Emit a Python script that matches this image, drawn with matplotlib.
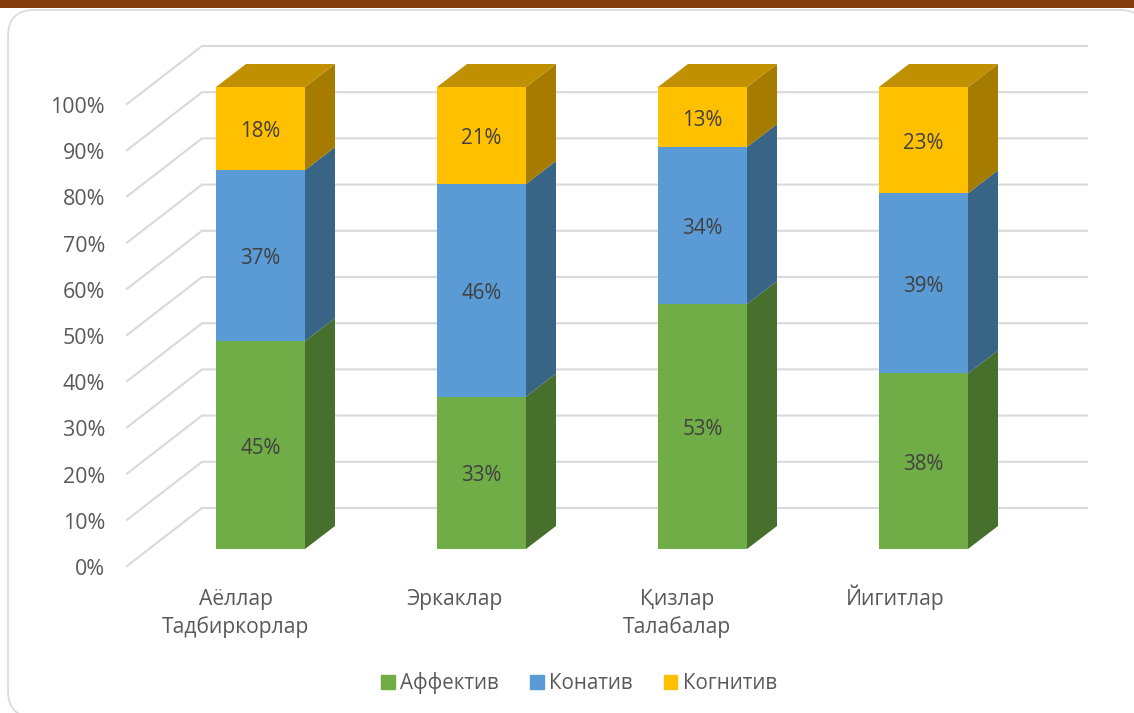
"""Stacked 3D-look percent columns, drawn flat with an oblique offset for the depth."""
import matplotlib
matplotlib.use("Agg")
import matplotlib.pyplot as plt
import numpy as np
from matplotlib.patches import FancyBboxPatch, Patch, Rectangle

plt.rcParams["font.family"] = ["Open Sans", "DejaVu Sans"]

categories = ["Аёллар\nТадбиркорлар", "Эркаклар", "Қизлар\nТалабалар", "Йигитлар"]
series_names = ["Аффектив", "Конатив", "Когнитив"]
affective = [45, 33, 53, 38]
conative = [37, 46, 34, 39]
cognitive = [18, 21, 13, 23]
y_ticks = [0, 10, 20, 30, 40, 50, 60, 70, 80, 90, 100]

W, H = 1134, 713
PX_X = 221.0      # pixels per category
PX_Y = 4.62       # pixels per percent
X0_PX, Y0_PX = 260.5, 549.0

FRONT = ["#70AD47", "#5B9BD5", "#FFC000"]
SIDE = ["#46702C", "#386486", "#A67C00"]
TOP = "#C09000"
GRID = "#D9D9D9"
TICK_TXT = "#595959"
LABEL_TXT = "#404040"

BAR_W = 89 / PX_X
DEPTH_X = 30 / PX_X
DEPTH_Y = 23 / PX_Y

fig = plt.figure(figsize=(W / 100, H / 100), dpi=100, facecolor="white")

# frame: brown strip and rounded chart border, in pixels
bg = fig.add_axes([0, 0, 1, 1])
bg.set_xlim(0, W); bg.set_ylim(H, 0); bg.axis("off")
bg.add_patch(FancyBboxPatch((8, 10), 1138, 707,
                            boxstyle="round,pad=0,rounding_size=26",
                            linewidth=1.2, edgecolor=GRID, facecolor="white"))
bg.add_patch(Rectangle((0, 0), W, 8, facecolor="#843C0C", edgecolor="none"))

ax = fig.add_axes([0, 0, 1, 1])
ax.patch.set_alpha(0)
ax.set_xlim(-X0_PX / PX_X, (W - X0_PX) / PX_X)
ax.set_ylim((Y0_PX - H) / PX_Y, Y0_PX / PX_Y)
ax.axis("off")

# gridlines: the slanted floor/side part, then along the back wall
wall_x0 = (127 - X0_PX) / PX_X
back_dx = 75 / PX_X
back_dy = 58 / PX_Y
front_y0 = (Y0_PX - 566) / PX_Y
wall_x1 = (1087 - X0_PX) / PX_X
for t in y_ticks:
    y = front_y0 + t
    ax.plot([wall_x0, wall_x0 + back_dx, wall_x1], [y, y + back_dy, y + back_dy],
            color=GRID, lw=1.5, solid_joinstyle="round", zorder=1)
    ax.text(wall_x0 - 22 / PX_X, y - 3.5 / PX_Y, f"{t}%", ha="right", va="center",
            fontsize=15.4, color=TICK_TXT)

x = np.arange(len(categories))
series = [affective, conative, cognitive]
bottom = np.zeros(len(categories))
for vals, fc, sc, name in zip(series, FRONT, SIDE, series_names):
    vals = np.array(vals)
    ax.bar(x, vals, BAR_W, bottom=bottom, color=fc, zorder=3, label=name)
    for i in x:
        r = i + BAR_W / 2
        b, t = bottom[i], bottom[i] + vals[i]
        ax.fill([r, r + DEPTH_X, r + DEPTH_X, r],
                [b, b + DEPTH_Y, t + DEPTH_Y, t], color=sc, lw=0, zorder=2)
        ax.text(i, (b + t) / 2 - 3 / PX_Y, f"{vals[i]}%", ha="center", va="center",
                fontsize=14.8, color=LABEL_TXT, zorder=4)
    bottom = bottom + vals

# top faces
for i in x:
    l, r = i - BAR_W / 2, i + BAR_W / 2
    t = bottom[i]
    ax.fill([l, r, r + DEPTH_X, l + DEPTH_X], [t, t, t + DEPTH_Y, t + DEPTH_Y],
            color=TOP, lw=0, zorder=2)

# category labels sit left of the columns, one baseline per line
label_shift = [-24.5, -27, -25.5, -28]
line_px = [604.5, 633]
for i, (cat, s) in enumerate(zip(categories, label_shift)):
    for line, py in zip(cat.split("\n"), line_px):
        ax.text(i + s / PX_X, (Y0_PX - py) / PX_Y, line, ha="center", va="baseline",
                fontsize=15.2, color=TICK_TXT)

handles = [Patch(color=c, label=n) for c, n in zip(FRONT, series_names)]
ax.legend(handles=handles, loc="center", ncols=3, frameon=False, fontsize=14.8,
          labelcolor=TICK_TXT, handlelength=0.68, handleheight=0.68,
          handletextpad=0.25, columnspacing=1.5,
          bbox_to_anchor=(579 / W, 1 - 683 / H), bbox_transform=fig.transFigure)

fig.savefig("out.png", dpi=100, facecolor="white")
